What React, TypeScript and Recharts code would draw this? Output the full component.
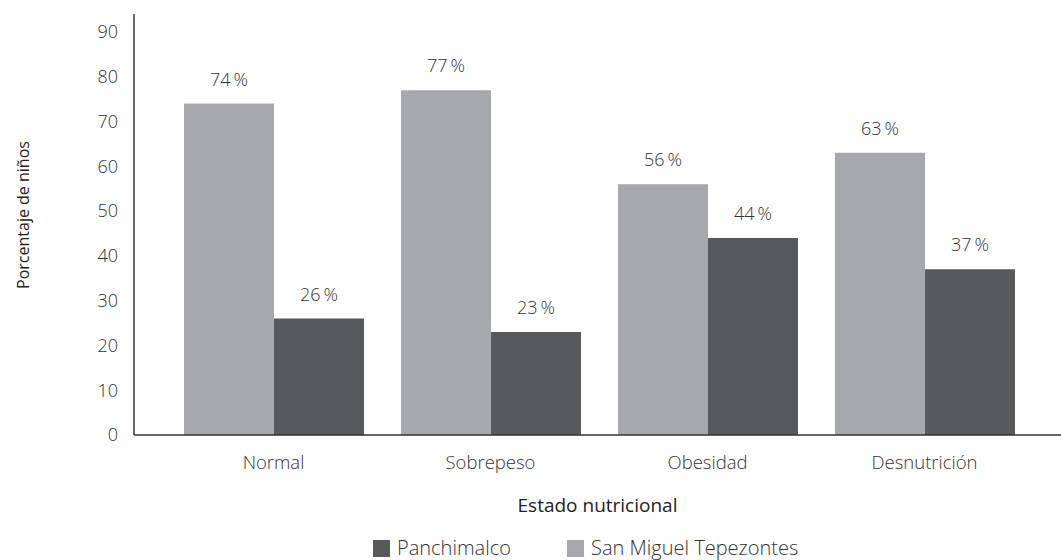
import React from 'react';
import { BarChart, Bar, XAxis, YAxis, LabelList, Label } from 'recharts';

const categories = ['Normal', 'Sobrepeso', 'Obesidad', 'Desnutrición'];
const sanMiguel = [74, 77, 56, 63];
const panchimalco = [26, 23, 44, 37];
const yTicks = [0, 10, 20, 30, 40, 50, 60, 70, 80, 90];
const seriesNames = { san: 'San Miguel Tepezontes', pan: 'Panchimalco' };
const legendOrder = ['pan', 'san'];

const COLORS: Record<string, string> = { san: '#a7a8ab', pan: '#58595b' };
const FONT = '"Open Sans", "Noto Sans", sans-serif';

const data = categories.map((c, i) => ({ name: c, san: sanMiguel[i], pan: panchimalco[i] }));

const fmt = (v: number) => `${v}\u2009%`;

export default function App() {
  return (
    <div style={{ position: 'absolute', left: 0, top: 0, width: 1061, height: 560, background: '#fff', overflow: 'hidden' }}>
      <BarChart
        width={1061}
        height={560}
        data={data}
        margin={{ top: 14, right: 0, left: 0, bottom: 65 }}
        barCategoryGap={19}
        barGap={0}
      >
        <XAxis
          dataKey="name"
          height={60}
          padding={{ left: 31, right: 28 }}
          tickLine={false}
          tickSize={0}
          tickMargin={21}
          axisLine={{ stroke: '#333', strokeWidth: 1.5 }}
          tick={{ fill: '#333', fontSize: 18.5, fontFamily: FONT, fontWeight: 300 }}
        >
          <Label
            content={(p: any) => {
              const vb = p.viewBox;
              return (
                <text x={vb.x + vb.width / 2} y={vb.y + 77} textAnchor="middle" fill="#222" fontSize={19} fontFamily={FONT}>
                  Estado nutricional
                </text>
              );
            }}
          />
        </XAxis>
        <YAxis
          width={134}
          domain={[0, 94]}
          ticks={yTicks}
          interval={0}
          tickLine={false}
          tickSize={0}
          tickMargin={16}
          axisLine={{ stroke: '#333', strokeWidth: 1.5 }}
          tick={{ fill: '#333', fontSize: 18, fontFamily: FONT, fontWeight: 300 }}
        >
          <Label
            content={() => {
              const cy = 215;
              return (
                <text x={29} y={cy} transform={`rotate(-90, 29, ${cy})`} textAnchor="middle" fill="#222" fontSize={16} fontFamily={FONT}>
                  Porcentaje de niños
                </text>
              );
            }}
          />
        </YAxis>
        <Bar dataKey="san" name={seriesNames.san} fill={COLORS.san} isAnimationActive={false}>
          <LabelList dataKey="san" position="top" offset={18} formatter={fmt as any} fill="#333" fontSize={18} fontFamily={FONT} fontWeight={300} />
        </Bar>
        <Bar dataKey="pan" name={seriesNames.pan} fill={COLORS.pan} isAnimationActive={false}>
          <LabelList dataKey="pan" position="top" offset={18} formatter={fmt as any} fill="#333" fontSize={18} fontFamily={FONT} fontWeight={300} />
        </Bar>
      </BarChart>
      <div style={{ position: 'absolute', left: 0, top: 537, width: 1061, height: 22, fontFamily: FONT, fontSize: 20, color: '#333', fontWeight: 300 }}>
        {legendOrder.map((k, i) => (
          <div key={k} style={{ position: 'absolute', left: i === 0 ? 373 : 567, top: 0, display: 'flex', alignItems: 'center', whiteSpace: 'nowrap', height: 22 }}>
            <span style={{ display: 'inline-block', width: 17, height: 17, background: COLORS[k], marginRight: 7 }} />
            <span style={{ lineHeight: '22px' }}>{(seriesNames as any)[k]}</span>
          </div>
        ))}
      </div>
    </div>
  );
}
